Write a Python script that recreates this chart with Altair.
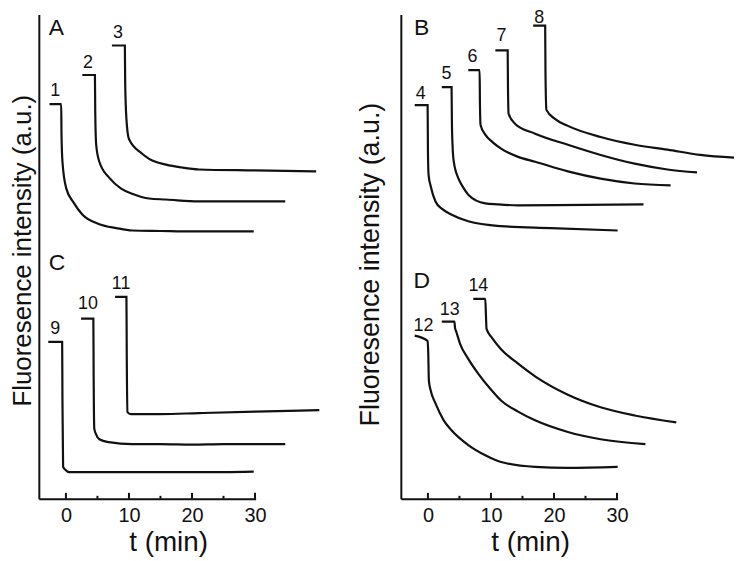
import altair as alt
import pandas as pd

# ---------------- data (time in min, intensity in a.u.) ----------------
# Panel A
t1 = [-2.6, -0.75, -0.7, -0.55, 0.05, 1.2, 2.6, 5.3, 8.0, 10.5, 15.0, 20.0, 25.0, 29.8]
y1 = [81.5, 81.5, 75.0, 69.6, 64.1, 61.2, 58.7, 56.7, 55.9, 55.4, 55.3, 55.2, 55.2, 55.2]
t2 = [2.6, 4.6, 4.65, 4.8, 5.3, 7.0, 8.7, 10.5, 13.2, 15.9, 21.1, 28.0, 34.8]
y2 = [87.5, 87.5, 80.0, 73.1, 69.6, 66.1, 64.1, 63.0, 62.0, 61.8, 61.4, 61.4, 61.4]
t3 = [7.3, 9.35, 9.4, 9.6, 10.0, 12.05, 13.2, 15.9, 18.4, 21.1, 30.0, 39.7]
y3 = [93.6, 93.6, 86.0, 78.4, 74.3, 71.3, 70.2, 69.0, 68.4, 68.0, 67.8, 67.6]
# Panel C
t9 = [-2.8, -0.6, -0.55, -0.45, -0.1, 0.5, 5.0, 10.0, 15.0, 20.0, 25.0, 29.8]
y9 = [32.4, 32.4, 20.0, 6.6, 6.0, 5.5, 5.5, 5.5, 5.5, 5.5, 5.5, 5.6]
t10 = [2.4, 4.35, 4.4, 4.5, 4.75, 5.3, 6.8, 10.5, 15.0, 20.0, 25.0, 30.0, 34.8]
y10 = [37.2, 37.2, 25.0, 14.5, 13.4, 12.3, 11.7, 11.3, 11.3, 11.2, 11.3, 11.3, 11.3]
t11 = [7.8, 9.6, 9.65, 9.75, 10.3, 15.0, 21.1, 30.0, 40.2]
y11 = [41.7, 41.7, 30.0, 17.9, 17.5, 17.5, 17.7, 18.0, 18.3]
# Panel B
t4 = [-2.1, -0.05, 0.0, 0.1, 0.45, 1.2, 2.3, 3.7, 6.4, 11.6, 19.5, 30.1]
y4 = [81.3, 81.3, 72.0, 66.9, 64.5, 61.4, 59.8, 58.7, 57.3, 56.3, 55.9, 55.4]
t5 = [2.2, 3.75, 3.8, 3.9, 4.1, 4.85, 5.5, 6.4, 9.1, 11.0, 14.3, 25.0, 34.2]
y5 = [85.0, 85.0, 78.0, 73.1, 69.6, 66.1, 64.5, 62.8, 61.0, 60.8, 60.6, 60.7, 60.8]
t6 = [6.4, 8.2, 8.25, 8.35, 9.1, 10.2, 11.6, 14.3, 17.0, 22.2, 27.4, 32.8, 38.5]
y6 = [88.5, 88.5, 82.0, 77.2, 75.2, 73.7, 72.3, 70.6, 69.6, 67.6, 66.1, 65.1, 64.7]
t7 = [10.7, 12.65, 12.7, 12.8, 13.85, 17.0, 22.2, 27.4, 32.8, 38.0, 42.7]
y7 = [92.6, 92.6, 85.0, 79.5, 77.4, 75.4, 73.1, 71.0, 69.2, 68.0, 67.4]
t8 = [16.7, 18.6, 18.65, 18.8, 20.2, 22.2, 27.4, 32.8, 38.0, 43.2, 48.9]
y8 = [97.7, 97.7, 88.0, 80.3, 78.4, 77.0, 74.7, 73.1, 72.1, 71.0, 70.4]
# Panel D
t12 = [-2.1, -0.05, 0.05, 0.15, 0.43, 1.2, 2.5, 3.7, 6.4, 9.1, 11.6, 17.0, 22.2, 30.1]
y12 = [33.7, 32.6, 30.0, 24.4, 22.4, 19.7, 16.2, 14.2, 11.1, 9.0, 7.6, 6.6, 6.4, 6.6]
t13 = [2.2, 4.2, 4.3, 4.5, 5.1, 6.4, 8.0, 10.1, 11.6, 14.3, 17.0, 22.2, 27.4, 34.5]
y13 = [36.6, 36.6, 35.3, 34.5, 32.0, 28.9, 25.8, 22.4, 20.3, 18.0, 16.2, 13.8, 12.3, 11.3]
t14 = [7.2, 9.1, 9.2, 9.3, 10.2, 11.6, 14.3, 17.0, 22.2, 27.4, 32.8, 39.4]
y14 = [41.3, 41.3, 38.0, 35.1, 33.2, 30.9, 27.9, 25.3, 21.5, 18.9, 17.2, 15.8]

# curve labels
left_labels = ["1", "2", "3", "9", "10", "11"]
left_label_t = [-1.7, 3.5, 8.25, -1.7, 3.5, 8.75]
left_label_y = [84.2, 89.9, 96.1, 35.1, 40.2, 44.4]
right_labels = ["4", "5", "6", "7", "8", "12", "13", "14"]
right_label_t = [-1.15, 2.95, 7.05, 11.65, 17.65, -0.7, 3.45, 8.0]
right_label_y = [83.6, 87.7, 91.2, 95.5, 99.2, 35.7, 39.0, 43.9]
# panel letters
left_letters = ["A", "C"]
left_letter_t = [-1.5, -1.4]
left_letter_y = [97.1, 48.7]
right_letters = ["B", "D"]
right_letter_t = [-1.0, -1.0]
right_letter_y = [97.3, 45.0]

major_ticks = [0, 10, 20, 30]
minor_ticks = [5, 15, 25]
x_domain = [-4.3, 30.1]
y_domain = [0, 100]

FONT = "Liberation Sans"
INK = "#111111"
W, H = 218, 487


def curves_df(curves):
    rows = []
    for name, ts, ys in curves:
        for i, (t, v) in enumerate(zip(ts, ys)):
            rows.append({"curve": name, "i": i, "t": t, "v": v})
    return pd.DataFrame(rows)


def column(curves, labels, lab_t, lab_y, letters, let_t, let_y, title_y, title_pad, ytitle_size):
    xs = alt.Scale(domain=x_domain, nice=False, zero=False)
    ys = alt.Scale(domain=y_domain, nice=False, zero=False)
    lines = alt.Chart(curves_df(curves)).mark_line(
        color=INK, strokeWidth=2.2, interpolate="monotone", clip=False
    ).encode(
        x=alt.X("t:Q", scale=xs, axis=alt.Axis(
            values=major_ticks, ticks=False, grid=False, labelFont=FONT,
            labelFontSize=20, labelColor=INK, labelPadding=7, labelFlush=False,
            domainColor=INK, domainWidth=2, title="t (min)", titleFont=FONT,
            titleFontSize=28, titleFontWeight="normal", titleColor=INK,
            titleX=130, titleY=52, titleBaseline="alphabetic")),
        y=alt.Y("v:Q", scale=ys, axis=alt.Axis(
            labels=False, ticks=False, grid=False, domainColor=INK, domainWidth=2,
            title="Fluoresence intensity (a.u.)", titleFont=FONT,
            titleFontSize=ytitle_size, titleFontWeight="normal", titleColor=INK,
            titlePadding=title_pad, titleY=title_y)),
        detail="curve:N",
        order="i:Q",
    )
    lab_df = pd.DataFrame({"label": labels, "t": lab_t, "v": lab_y})
    labs = alt.Chart(lab_df).mark_text(
        font=FONT, fontSize=18, color=INK, align="center", baseline="middle"
    ).encode(x=alt.X("t:Q", scale=xs), y=alt.Y("v:Q", scale=ys), text="label:N")
    let_df = pd.DataFrame({"label": letters, "t": let_t, "v": let_y})
    lets = alt.Chart(let_df).mark_text(
        font=FONT, fontSize=23, color=INK, align="center", baseline="middle"
    ).encode(x=alt.X("t:Q", scale=xs), y=alt.Y("v:Q", scale=ys), text="label:N")
    major = alt.Chart(pd.DataFrame({"t": major_ticks})).mark_rule(
        color=INK, strokeWidth=2
    ).encode(x=alt.X("t:Q", scale=xs), y=alt.value(H), y2=alt.value(H - 6))
    minor = alt.Chart(pd.DataFrame({"t": minor_ticks})).mark_rule(
        color=INK, strokeWidth=2
    ).encode(x=alt.X("t:Q", scale=xs), y=alt.value(H), y2=alt.value(H - 3))
    return alt.layer(lines, labs, lets, major, minor).properties(width=W, height=H)


left = column(
    [("1", t1, y1), ("2", t2, y2), ("3", t3, y3),
     ("9", t9, y9), ("10", t10, y10), ("11", t11, y11)],
    left_labels, left_label_t, left_label_y,
    left_letters, left_letter_t, left_letter_y, 237, 3, 26)
right = column(
    [("4", t4, y4), ("5", t5, y5), ("6", t6, y6), ("7", t7, y7), ("8", t8, y8),
     ("12", t12, y12), ("13", t13, y13), ("14", t14, y14)],
    right_labels, right_label_t, right_label_y,
    right_letters, right_letter_t, right_letter_y, 251, 16, 27)

chart = alt.hconcat(left, right, spacing=146, bounds="flush").properties(
    padding={"left": 2, "top": -1, "right": -7, "bottom": 2}
).configure(background="white").configure_view(stroke=None)

chart.save("out.html", embed_options={"renderer": "svg", "actions": False})
